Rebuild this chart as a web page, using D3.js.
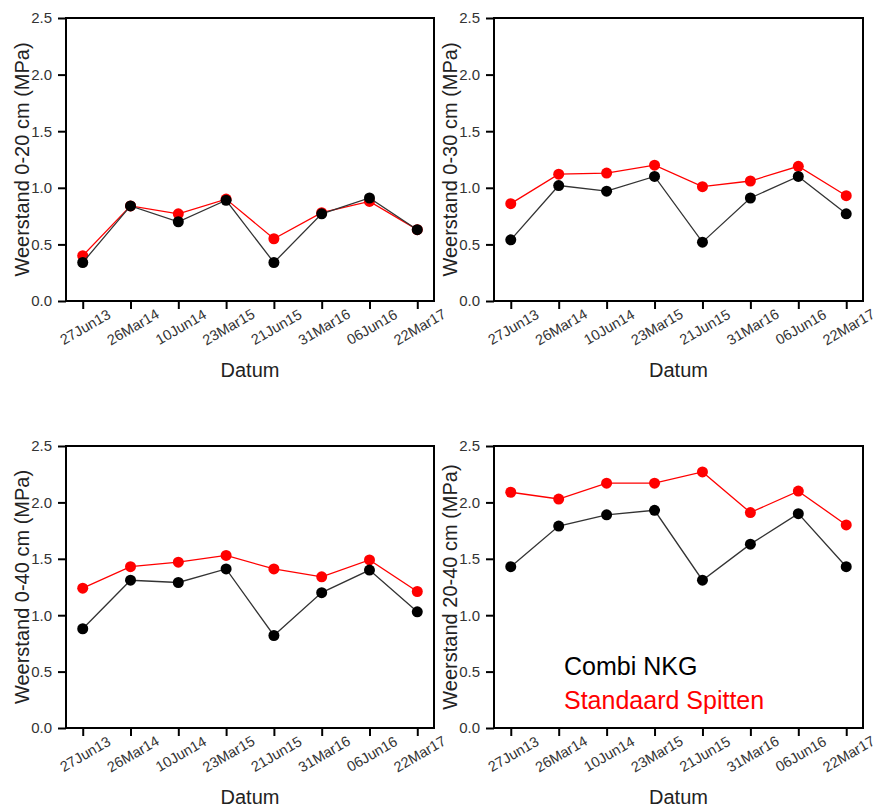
<!DOCTYPE html>
<html>
<head>
<meta charset="utf-8">
<script src="https://cdn.jsdelivr.net/npm/d3@7/dist/d3.min.js"></script>
<style>
  html, body { margin: 0; padding: 0; background: #fff; }
  svg { display: block; }
  text { font-family: "Liberation Sans", Arial, sans-serif; }
</style>
</head>
<body>
<svg id="chart" width="878" height="809"></svg>
<script>
// ---- data ----
const dates = ["27Jun13", "26Mar14", "10Jun14", "23Mar15", "21Jun15", "31Mar16", "06Jun16", "22Mar17"];
const yTicks = [0.0, 0.5, 1.0, 1.5, 2.0, 2.5];
const seriesNames = ["Combi NKG", "Standaard Spitten"];
const yLabels = ["Weerstand 0-20 cm (MPa)", "Weerstand 0-30 cm (MPa)", "Weerstand 0-40 cm (MPa)", "Weerstand 20-40 cm (MPa)"];

const combi_0_20 = [0.34, 0.84, 0.70, 0.89, 0.34, 0.77, 0.91, 0.63];
const standaard_0_20 = [0.40, 0.84, 0.77, 0.90, 0.55, 0.78, 0.88, 0.63];
const combi_0_30 = [0.54, 1.02, 0.97, 1.10, 0.52, 0.91, 1.10, 0.77];
const standaard_0_30 = [0.86, 1.12, 1.13, 1.20, 1.01, 1.06, 1.19, 0.93];
const combi_0_40 = [0.88, 1.31, 1.29, 1.41, 0.82, 1.20, 1.40, 1.03];
const standaard_0_40 = [1.24, 1.43, 1.47, 1.53, 1.41, 1.34, 1.49, 1.21];
const combi_20_40 = [1.43, 1.79, 1.89, 1.93, 1.31, 1.63, 1.90, 1.43];
const standaard_20_40 = [2.09, 2.03, 2.17, 2.17, 2.27, 1.91, 2.10, 1.80];

const colors = ["#000000", "#ff0000"];
const lineColors = ["#333333", "#ff0000"];

const panels = [
  { left: 66,  top: 18,  right: 434, bottom: 301, label: yLabels[0], series: [combi_0_20, standaard_0_20] },
  { left: 494, top: 18,  right: 863, bottom: 301, label: yLabels[1], series: [combi_0_30, standaard_0_30] },
  { left: 66,  top: 446, right: 434, bottom: 728, label: yLabels[2], series: [combi_0_40, standaard_0_40] },
  { left: 494, top: 446, right: 863, bottom: 728, label: yLabels[3], series: [combi_20_40, standaard_20_40], legend: true }
];

const svg = d3.select("#chart");

panels.forEach(p => {
  const w = p.right - p.left, h = p.bottom - p.top;
  const g = svg.append("g").attr("transform", `translate(${p.left},${p.top})`);
  const x = d3.scalePoint().domain(dates).range([0, w]).padding(0.35);
  const y = d3.scaleLinear().domain([0, 2.5]).range([h, 0]);

  // Y axis
  const ya = g.append("g").call(d3.axisLeft(y).tickValues(yTicks).tickFormat(d3.format(".1f")).tickSize(8).tickPadding(6));
  ya.select(".domain").remove();
  ya.selectAll(".tick line").attr("stroke", "#000").attr("stroke-width", 2);
  ya.selectAll(".tick text").attr("font-size", 15).attr("fill", "#333");

  // X axis
  const xa = g.append("g").attr("transform", `translate(0,${h})`).call(d3.axisBottom(x).tickSize(8));
  xa.select(".domain").remove();
  xa.selectAll(".tick line").attr("stroke", "#000").attr("stroke-width", 2);
  xa.selectAll(".tick text")
    .attr("font-size", 14.5).attr("fill", "#333")
    .attr("text-anchor", "middle")
    .attr("dy", null)
    .attr("y", null)
    .attr("dominant-baseline", "central")
    .attr("transform", "translate(2,26) rotate(-30)");

  // frame
  g.append("rect").attr("x", 0).attr("y", 0).attr("width", w).attr("height", h)
    .attr("fill", "none").attr("stroke", "#000").attr("stroke-width", 2);

  // series: red first, black on top
  [1, 0].forEach(si => {
    const vals = p.series[si];
    const line = d3.line().x((d, i) => x(dates[i])).y(d => y(d));
    g.append("path").datum(vals).attr("d", line)
      .attr("fill", "none").attr("stroke", lineColors[si]).attr("stroke-width", 1.3);
    g.selectAll(null).data(vals).enter().append("circle")
      .attr("cx", (d, i) => x(dates[i])).attr("cy", d => y(d)).attr("r", 5.5)
      .attr("fill", colors[si]);
  });

  // axis titles
  g.append("text").attr("x", w / 2).attr("y", h + 76)
    .attr("text-anchor", "middle").attr("font-size", 20).attr("fill", "#222").text("Datum");
  g.append("text").attr("transform", `translate(-37,${h / 2}) rotate(-90)`)
    .attr("text-anchor", "middle").attr("font-size", 20).attr("fill", "#222").text(p.label);

  if (p.legend) {
    seriesNames.forEach((name, i) => {
      g.append("text").attr("x", 70).attr("y", 229 + i * 34)
        .attr("font-size", 25).attr("fill", colors[i]).text(name);
    });
  }
});
</script>
</body>
</html>
